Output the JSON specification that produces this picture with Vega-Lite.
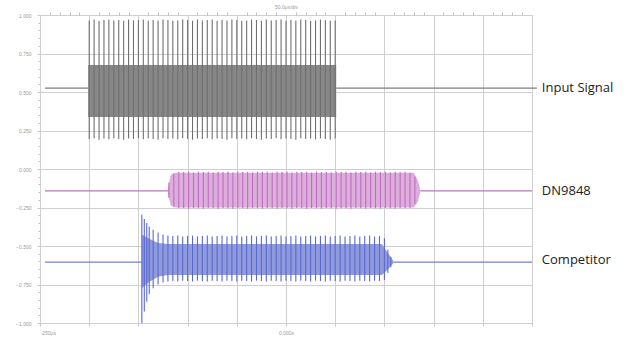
{
  "$schema": "https://vega.github.io/schema/vega-lite/v6.json",
  "width": 492,
  "height": 308,
  "autosize": {"type": "none"},
  "padding": {"left": 40, "top": 15, "right": 100, "bottom": 18},
  "background": "white",
  "config": {"view": {"stroke": "#c8c8c8", "strokeWidth": 1}},
  "datasets": {
    "grid": [{"t": 0, "v": 0}],
    "base": [
      {"s": "Input Signal", "t": 0.1, "t2": 0.98, "v": 6.1},
      {"s": "Input Signal", "t": 6.02, "t2": 10.1, "v": 6.1},
      {"s": "DN9848", "t": 0.1, "t2": 2.6, "v": 3.43},
      {"s": "DN9848", "t": 7.73, "t2": 10.0, "v": 3.43},
      {"s": "Competitor", "t": 0.1, "t2": 2.07, "v": 1.58},
      {"s": "Competitor", "t": 7.18, "t2": 10.0, "v": 1.58}
    ],
    "bands": [
      {"s": "Input Signal", "t": 0.98, "lo": 5.35, "hi": 6.7},
      {"s": "Input Signal", "t": 6.02, "lo": 5.35, "hi": 6.7},
      {"s": "DN9848", "t": 2.6, "lo": 3.35, "hi": 3.5},
      {"s": "DN9848", "t": 2.66, "lo": 3.05, "hi": 3.85},
      {"s": "DN9848", "t": 2.75, "lo": 3.0, "hi": 3.9},
      {"s": "DN9848", "t": 7.6, "lo": 3.0, "hi": 3.9},
      {"s": "DN9848", "t": 7.68, "lo": 3.15, "hi": 3.7},
      {"s": "DN9848", "t": 7.73, "lo": 3.4, "hi": 3.46},
      {"s": "Competitor", "t": 2.07, "lo": 0.9, "hi": 2.3},
      {"s": "Competitor", "t": 2.2, "lo": 1.05, "hi": 2.2},
      {"s": "Competitor", "t": 2.4, "lo": 1.2, "hi": 2.08},
      {"s": "Competitor", "t": 2.6, "lo": 1.25, "hi": 2.05},
      {"s": "Competitor", "t": 6.95, "lo": 1.25, "hi": 2.05},
      {"s": "Competitor", "t": 7.08, "lo": 1.4, "hi": 1.8},
      {"s": "Competitor", "t": 7.18, "lo": 1.55, "hi": 1.62}
    ],
    "spikes": [
      {"s": "Input Signal", "t": 1.0, "lo": 4.78, "hi": 7.86},
      {"s": "Input Signal", "t": 1.1, "lo": 4.8, "hi": 7.88},
      {"s": "Input Signal", "t": 1.2, "lo": 4.76, "hi": 7.85},
      {"s": "Input Signal", "t": 1.3, "lo": 4.79, "hi": 7.87},
      {"s": "Input Signal", "t": 1.4, "lo": 4.77, "hi": 7.88},
      {"s": "Input Signal", "t": 1.5, "lo": 4.8, "hi": 7.86},
      {"s": "Input Signal", "t": 1.6, "lo": 4.78, "hi": 7.87},
      {"s": "Input Signal", "t": 1.7, "lo": 4.76, "hi": 7.85},
      {"s": "Input Signal", "t": 1.8, "lo": 4.79, "hi": 7.88},
      {"s": "Input Signal", "t": 1.9, "lo": 4.78, "hi": 7.86},
      {"s": "Input Signal", "t": 2.0, "lo": 4.8, "hi": 7.87},
      {"s": "Input Signal", "t": 2.1, "lo": 4.77, "hi": 7.88},
      {"s": "Input Signal", "t": 2.2, "lo": 4.79, "hi": 7.85},
      {"s": "Input Signal", "t": 2.3, "lo": 4.78, "hi": 7.87},
      {"s": "Input Signal", "t": 2.4, "lo": 4.76, "hi": 7.86},
      {"s": "Input Signal", "t": 2.5, "lo": 4.8, "hi": 7.88},
      {"s": "Input Signal", "t": 2.6, "lo": 4.78, "hi": 7.87},
      {"s": "Input Signal", "t": 2.7, "lo": 4.79, "hi": 7.85},
      {"s": "Input Signal", "t": 2.8, "lo": 4.77, "hi": 7.86},
      {"s": "Input Signal", "t": 2.9, "lo": 4.8, "hi": 7.88},
      {"s": "Input Signal", "t": 3.0, "lo": 4.78, "hi": 7.87},
      {"s": "Input Signal", "t": 3.1, "lo": 4.76, "hi": 7.85},
      {"s": "Input Signal", "t": 3.2, "lo": 4.79, "hi": 7.88},
      {"s": "Input Signal", "t": 3.3, "lo": 4.78, "hi": 7.86},
      {"s": "Input Signal", "t": 3.4, "lo": 4.8, "hi": 7.87},
      {"s": "Input Signal", "t": 3.5, "lo": 4.77, "hi": 7.88},
      {"s": "Input Signal", "t": 3.6, "lo": 4.79, "hi": 7.85},
      {"s": "Input Signal", "t": 3.7, "lo": 4.78, "hi": 7.87},
      {"s": "Input Signal", "t": 3.8, "lo": 4.76, "hi": 7.86},
      {"s": "Input Signal", "t": 3.9, "lo": 4.8, "hi": 7.88},
      {"s": "Input Signal", "t": 4.0, "lo": 4.78, "hi": 7.87},
      {"s": "Input Signal", "t": 4.1, "lo": 4.79, "hi": 7.85},
      {"s": "Input Signal", "t": 4.2, "lo": 4.77, "hi": 7.86},
      {"s": "Input Signal", "t": 4.3, "lo": 4.8, "hi": 7.88},
      {"s": "Input Signal", "t": 4.4, "lo": 4.78, "hi": 7.87},
      {"s": "Input Signal", "t": 4.5, "lo": 4.76, "hi": 7.85},
      {"s": "Input Signal", "t": 4.6, "lo": 4.79, "hi": 7.88},
      {"s": "Input Signal", "t": 4.7, "lo": 4.78, "hi": 7.86},
      {"s": "Input Signal", "t": 4.8, "lo": 4.8, "hi": 7.87},
      {"s": "Input Signal", "t": 4.9, "lo": 4.77, "hi": 7.88},
      {"s": "Input Signal", "t": 5.0, "lo": 4.79, "hi": 7.85},
      {"s": "Input Signal", "t": 5.1, "lo": 4.78, "hi": 7.87},
      {"s": "Input Signal", "t": 5.2, "lo": 4.76, "hi": 7.86},
      {"s": "Input Signal", "t": 5.3, "lo": 4.8, "hi": 7.88},
      {"s": "Input Signal", "t": 5.4, "lo": 4.78, "hi": 7.87},
      {"s": "Input Signal", "t": 5.5, "lo": 4.79, "hi": 7.85},
      {"s": "Input Signal", "t": 5.6, "lo": 4.77, "hi": 7.86},
      {"s": "Input Signal", "t": 5.7, "lo": 4.8, "hi": 7.88},
      {"s": "Input Signal", "t": 5.8, "lo": 4.78, "hi": 7.87},
      {"s": "Input Signal", "t": 5.9, "lo": 4.76, "hi": 7.85},
      {"s": "Input Signal", "t": 6.0, "lo": 4.79, "hi": 7.86},

      {"s": "DN9848", "t": 2.62, "lo": 3.25, "hi": 3.65},
      {"s": "DN9848", "t": 2.72, "lo": 3.02, "hi": 3.88},
      {"s": "DN9848", "t": 2.82, "lo": 2.98, "hi": 3.93},
      {"s": "DN9848", "t": 2.92, "lo": 2.99, "hi": 3.92},
      {"s": "DN9848", "t": 3.02, "lo": 2.97, "hi": 3.93},
      {"s": "DN9848", "t": 3.12, "lo": 2.99, "hi": 3.91},
      {"s": "DN9848", "t": 3.22, "lo": 2.98, "hi": 3.93},
      {"s": "DN9848", "t": 3.32, "lo": 2.97, "hi": 3.92},
      {"s": "DN9848", "t": 3.42, "lo": 2.99, "hi": 3.93},
      {"s": "DN9848", "t": 3.52, "lo": 2.98, "hi": 3.91},
      {"s": "DN9848", "t": 3.62, "lo": 2.97, "hi": 3.93},
      {"s": "DN9848", "t": 3.72, "lo": 2.99, "hi": 3.92},
      {"s": "DN9848", "t": 3.82, "lo": 2.98, "hi": 3.93},
      {"s": "DN9848", "t": 3.92, "lo": 2.97, "hi": 3.91},
      {"s": "DN9848", "t": 4.02, "lo": 2.99, "hi": 3.93},
      {"s": "DN9848", "t": 4.12, "lo": 2.98, "hi": 3.92},
      {"s": "DN9848", "t": 4.22, "lo": 2.97, "hi": 3.93},
      {"s": "DN9848", "t": 4.32, "lo": 2.99, "hi": 3.91},
      {"s": "DN9848", "t": 4.42, "lo": 2.98, "hi": 3.93},
      {"s": "DN9848", "t": 4.52, "lo": 2.97, "hi": 3.92},
      {"s": "DN9848", "t": 4.62, "lo": 2.99, "hi": 3.93},
      {"s": "DN9848", "t": 4.72, "lo": 2.98, "hi": 3.91},
      {"s": "DN9848", "t": 4.82, "lo": 2.97, "hi": 3.93},
      {"s": "DN9848", "t": 4.92, "lo": 2.99, "hi": 3.92},
      {"s": "DN9848", "t": 5.02, "lo": 2.98, "hi": 3.93},
      {"s": "DN9848", "t": 5.12, "lo": 2.97, "hi": 3.91},
      {"s": "DN9848", "t": 5.22, "lo": 2.99, "hi": 3.93},
      {"s": "DN9848", "t": 5.32, "lo": 2.98, "hi": 3.92},
      {"s": "DN9848", "t": 5.42, "lo": 2.97, "hi": 3.93},
      {"s": "DN9848", "t": 5.52, "lo": 2.99, "hi": 3.91},
      {"s": "DN9848", "t": 5.62, "lo": 2.98, "hi": 3.93},
      {"s": "DN9848", "t": 5.72, "lo": 2.97, "hi": 3.92},
      {"s": "DN9848", "t": 5.82, "lo": 2.99, "hi": 3.93},
      {"s": "DN9848", "t": 5.92, "lo": 2.98, "hi": 3.91},
      {"s": "DN9848", "t": 6.02, "lo": 2.97, "hi": 3.93},
      {"s": "DN9848", "t": 6.12, "lo": 2.99, "hi": 3.92},
      {"s": "DN9848", "t": 6.22, "lo": 2.98, "hi": 3.93},
      {"s": "DN9848", "t": 6.32, "lo": 2.97, "hi": 3.91},
      {"s": "DN9848", "t": 6.42, "lo": 2.99, "hi": 3.93},
      {"s": "DN9848", "t": 6.52, "lo": 2.98, "hi": 3.92},
      {"s": "DN9848", "t": 6.62, "lo": 2.97, "hi": 3.93},
      {"s": "DN9848", "t": 6.72, "lo": 2.99, "hi": 3.91},
      {"s": "DN9848", "t": 6.82, "lo": 2.98, "hi": 3.93},
      {"s": "DN9848", "t": 6.92, "lo": 2.97, "hi": 3.92},
      {"s": "DN9848", "t": 7.02, "lo": 2.99, "hi": 3.93},
      {"s": "DN9848", "t": 7.12, "lo": 2.98, "hi": 3.91},
      {"s": "DN9848", "t": 7.22, "lo": 2.97, "hi": 3.93},
      {"s": "DN9848", "t": 7.32, "lo": 2.99, "hi": 3.92},
      {"s": "DN9848", "t": 7.42, "lo": 2.98, "hi": 3.93},
      {"s": "DN9848", "t": 7.52, "lo": 2.99, "hi": 3.91},
      {"s": "DN9848", "t": 7.62, "lo": 3.1, "hi": 3.8},

      {"s": "Competitor", "t": 2.07, "lo": 0.0, "hi": 2.81},
      {"s": "Competitor", "t": 2.12, "lo": 0.3, "hi": 2.7},
      {"s": "Competitor", "t": 2.17, "lo": 0.55, "hi": 2.6},
      {"s": "Competitor", "t": 2.22, "lo": 0.75, "hi": 2.5},
      {"s": "Competitor", "t": 2.3, "lo": 0.9, "hi": 2.42},
      {"s": "Competitor", "t": 2.4, "lo": 1.0, "hi": 2.35},
      {"s": "Competitor", "t": 2.5, "lo": 1.05, "hi": 2.3},
      {"s": "Competitor", "t": 2.6, "lo": 1.08, "hi": 2.27},
      {"s": "Competitor", "t": 2.7, "lo": 1.09, "hi": 2.26},
      {"s": "Competitor", "t": 2.8, "lo": 1.08, "hi": 2.27},
      {"s": "Competitor", "t": 2.9, "lo": 1.1, "hi": 2.25},
      {"s": "Competitor", "t": 3.0, "lo": 1.09, "hi": 2.26},
      {"s": "Competitor", "t": 3.1, "lo": 1.08, "hi": 2.27},
      {"s": "Competitor", "t": 3.2, "lo": 1.1, "hi": 2.25},
      {"s": "Competitor", "t": 3.3, "lo": 1.09, "hi": 2.26},
      {"s": "Competitor", "t": 3.4, "lo": 1.08, "hi": 2.27},
      {"s": "Competitor", "t": 3.5, "lo": 1.1, "hi": 2.25},
      {"s": "Competitor", "t": 3.6, "lo": 1.09, "hi": 2.26},
      {"s": "Competitor", "t": 3.7, "lo": 1.08, "hi": 2.27},
      {"s": "Competitor", "t": 3.8, "lo": 1.1, "hi": 2.25},
      {"s": "Competitor", "t": 3.9, "lo": 1.09, "hi": 2.26},
      {"s": "Competitor", "t": 4.0, "lo": 1.08, "hi": 2.27},
      {"s": "Competitor", "t": 4.1, "lo": 1.1, "hi": 2.25},
      {"s": "Competitor", "t": 4.2, "lo": 1.09, "hi": 2.26},
      {"s": "Competitor", "t": 4.3, "lo": 1.08, "hi": 2.27},
      {"s": "Competitor", "t": 4.4, "lo": 1.1, "hi": 2.25},
      {"s": "Competitor", "t": 4.5, "lo": 1.09, "hi": 2.26},
      {"s": "Competitor", "t": 4.6, "lo": 1.08, "hi": 2.27},
      {"s": "Competitor", "t": 4.7, "lo": 1.1, "hi": 2.25},
      {"s": "Competitor", "t": 4.8, "lo": 1.09, "hi": 2.26},
      {"s": "Competitor", "t": 4.9, "lo": 1.08, "hi": 2.27},
      {"s": "Competitor", "t": 5.0, "lo": 1.1, "hi": 2.25},
      {"s": "Competitor", "t": 5.1, "lo": 1.09, "hi": 2.26},
      {"s": "Competitor", "t": 5.2, "lo": 1.08, "hi": 2.27},
      {"s": "Competitor", "t": 5.3, "lo": 1.1, "hi": 2.25},
      {"s": "Competitor", "t": 5.4, "lo": 1.09, "hi": 2.26},
      {"s": "Competitor", "t": 5.5, "lo": 1.08, "hi": 2.27},
      {"s": "Competitor", "t": 5.6, "lo": 1.1, "hi": 2.25},
      {"s": "Competitor", "t": 5.7, "lo": 1.09, "hi": 2.26},
      {"s": "Competitor", "t": 5.8, "lo": 1.08, "hi": 2.27},
      {"s": "Competitor", "t": 5.9, "lo": 1.1, "hi": 2.25},
      {"s": "Competitor", "t": 6.0, "lo": 1.09, "hi": 2.26},
      {"s": "Competitor", "t": 6.1, "lo": 1.08, "hi": 2.27},
      {"s": "Competitor", "t": 6.2, "lo": 1.1, "hi": 2.25},
      {"s": "Competitor", "t": 6.3, "lo": 1.09, "hi": 2.26},
      {"s": "Competitor", "t": 6.4, "lo": 1.08, "hi": 2.27},
      {"s": "Competitor", "t": 6.5, "lo": 1.1, "hi": 2.25},
      {"s": "Competitor", "t": 6.6, "lo": 1.09, "hi": 2.26},
      {"s": "Competitor", "t": 6.7, "lo": 1.08, "hi": 2.27},
      {"s": "Competitor", "t": 6.8, "lo": 1.1, "hi": 2.25},
      {"s": "Competitor", "t": 6.9, "lo": 1.09, "hi": 2.26},
      {"s": "Competitor", "t": 7.0, "lo": 1.12, "hi": 2.2},
      {"s": "Competitor", "t": 7.07, "lo": 1.3, "hi": 1.9},
      {"s": "Competitor", "t": 7.13, "lo": 1.45, "hi": 1.72}
    ],
    "labels": [
      {"s": "Input Signal", "t": 10.2, "v": 6.1},
      {"s": "DN9848", "t": 10.2, "v": 3.43},
      {"s": "Competitor", "t": 10.2, "v": 1.64}
    ]
  },
  "resolve": {"scale": {"color": "independent"}, "axis": {"x": "independent", "y": "independent"}},
  "layer": [
    {
      "data": {"name": "grid"},
      "mark": {"type": "point", "opacity": 0},
      "encoding": {
        "x": {"field": "t", "type": "quantitative", "scale": {"domain": [0, 10], "nice": false},
          "axis": {"orient": "bottom", "values": [0, 1, 2, 3, 4, 5, 6, 7, 8, 9, 10], "title": null,
            "grid": true, "gridColor": "#cfcfcf", "gridWidth": 1, "domain": false,
            "tickSize": 3, "tickColor": "#c8c8c8", "labelFontSize": 5, "labelColor": "#9a9a9a", "labelPadding": 4,
            "labelExpr": "datum.value == 0 ? '-250μs' : datum.value == 5 ? '0.000s' : ''"}},
        "y": {"field": "v", "type": "quantitative", "scale": {"domain": [0, 8], "nice": false},
          "axis": {"values": [0, 1, 2, 3, 4, 5, 6, 7, 8], "title": null, "grid": true, "gridColor": "#cfcfcf",
            "domain": false, "tickSize": 3, "tickColor": "#c8c8c8", "labelFontSize": 5, "labelColor": "#9a9a9a",
            "labelPadding": 6, "labelExpr": "format((datum.value - 4) * 0.25, '.3f')"}}
      }
    },
    {
      "data": {"name": "grid"},
      "mark": {"type": "point", "opacity": 0},
      "encoding": {
        "x": {"field": "t", "type": "quantitative", "scale": {"domain": [0, 10], "nice": false},
          "axis": {"orient": "top", "values": [0.2,0.4,0.6,0.8,1.2,1.4,1.6,1.8,2.2,2.4,2.6,2.8,3.2,3.4,3.6,3.8,4.2,4.4,4.6,4.8,5.2,5.4,5.6,5.8,6.2,6.4,6.6,6.8,7.2,7.4,7.6,7.8,8.2,8.4,8.6,8.8,9.2,9.4,9.6,9.8],
            "title": "50.0μs/div", "titleFontSize": 5, "titleColor": "#9a9a9a", "titleFontWeight": "normal", "titlePadding": 2,
            "grid": false, "domain": false, "tickSize": 3, "tickColor": "#c0c0c0", "labels": false}},
        "y": {"field": "v", "type": "quantitative", "scale": {"domain": [0, 8], "nice": false},
          "axis": {"orient": "left", "values": [0.2,0.4,0.6,0.8,1.2,1.4,1.6,1.8,2.2,2.4,2.6,2.8,3.2,3.4,3.6,3.8,4.2,4.4,4.6,4.8,5.2,5.4,5.6,5.8,6.2,6.4,6.6,6.8,7.2,7.4,7.6,7.8],
            "title": null, "grid": false, "domain": false, "tickSize": 2, "tickColor": "#c0c0c0", "labels": false}}
      }
    },
    {
      "data": {"name": "base"},
      "mark": {"type": "rule", "strokeWidth": 1.2},
      "encoding": {
        "x": {"field": "t", "type": "quantitative", "scale": {"domain": [0, 10], "nice": false}, "axis": null},
        "x2": {"field": "t2"},
        "y": {"field": "v", "type": "quantitative", "scale": {"domain": [0, 8], "nice": false}, "axis": null},
        "color": {"field": "s", "type": "nominal", "legend": null,
          "scale": {"domain": ["Input Signal", "DN9848", "Competitor"], "range": ["#7f7f7f", "#b77ab7", "#7380cc"]}}
      }
    },
    {
      "data": {"name": "bands"},
      "mark": {"type": "area", "opacity": 1},
      "encoding": {
        "x": {"field": "t", "type": "quantitative", "scale": {"domain": [0, 10], "nice": false}, "axis": null},
        "y": {"field": "hi", "type": "quantitative", "scale": {"domain": [0, 8], "nice": false}, "axis": null},
        "y2": {"field": "lo"},
        "color": {"field": "s", "type": "nominal", "legend": null,
          "scale": {"domain": ["Input Signal", "DN9848", "Competitor"], "range": ["#878787", "#dcaedc", "#8f9ade"]}}
      }
    },
    {
      "data": {"name": "spikes"},
      "mark": {"type": "rule", "strokeWidth": 1.1},
      "encoding": {
        "x": {"field": "t", "type": "quantitative", "scale": {"domain": [0, 10], "nice": false}, "axis": null},
        "y": {"field": "lo", "type": "quantitative", "scale": {"domain": [0, 8], "nice": false}, "axis": null},
        "y2": {"field": "hi"},
        "color": {"field": "s", "type": "nominal", "legend": null,
          "scale": {"domain": ["Input Signal", "DN9848", "Competitor"], "range": ["#6f6f6f", "#c06cc0", "#5a69cc"]}}
      }
    },
    {
      "data": {"name": "labels"},
      "mark": {"type": "text", "align": "left", "baseline": "middle", "font": "Open Sans", "fontSize": 13, "color": "#222222"},
      "encoding": {
        "x": {"field": "t", "type": "quantitative", "scale": {"domain": [0, 10], "nice": false}, "axis": null},
        "y": {"field": "v", "type": "quantitative", "scale": {"domain": [0, 8], "nice": false}, "axis": null},
        "text": {"field": "s"}
      }
    }
  ]
}
